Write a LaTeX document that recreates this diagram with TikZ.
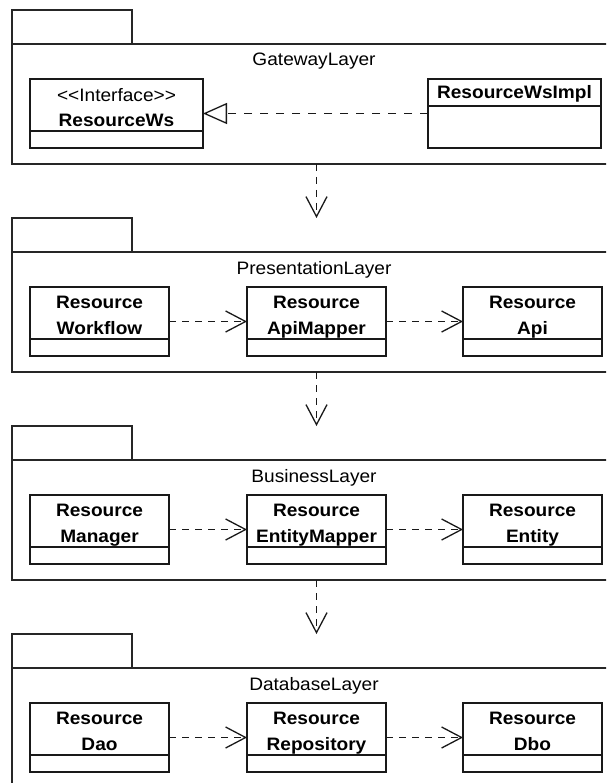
\documentclass[tikz,border=0pt]{standalone}
\usepackage{fontspec}
\setmainfont{Liberation Sans}[FakeStretch=1.06]
\usetikzlibrary{arrows.meta}

% class box: #1 name, #2 left, #3 top, #4 width, #5 height, #6 divider offset from top
\newcommand\classbox[6]{%
  \node[cls, minimum width=#4pt, minimum height=#5pt] (#1) at (#2,#3) {};
  \draw[clsline] ([yshift=-#6pt]#1.north west) -- ([yshift=-#6pt]#1.north east);
}
% package frame: #1 name, #2 top of body, #3 title
\newcommand\pkgframe[3]{%
  \node[pkg, minimum width=605pt, minimum height=120pt] (#1) at (12,#2) {};
  \node[pkg, anchor=south west, minimum width=120pt, minimum height=34pt] (#1-tab) at (12,#2) {};
  \node[lbl, anchor=base] (#1-title) at (314,#2+22) {#3};
}

\begin{document}
\begin{tikzpicture}[x=1pt, y=-1pt,
  pkg/.style={draw=black!85, line width=1.5pt, inner sep=0pt, outer sep=0pt, anchor=north west},
  cls/.style={draw=black!90, line width=1.6pt, inner sep=0pt, outer sep=0pt, anchor=north west, fill=white},
  clsline/.style={draw=black!90, line width=1.6pt},
  lbl/.style={font=\fontsize{18}{22}\selectfont, inner sep=0pt},
  cname/.style={font=\fontsize{18}{22}\selectfont\bfseries, inner sep=0pt, anchor=base},
  dep/.style={draw=black!90, line width=1.3pt, dash pattern=on 7pt off 6pt,
    -{Straight Barb[length=20pt, width=21pt, line width=1.3pt]}},
  real/.style={draw=black!90, line width=1.3pt, dash pattern=on 8pt off 8pt,
    -{Triangle[open, length=24pt, width=21pt, line width=1.3pt]}}]

\clip (0,0) rectangle (606,783);
\fill[white] (0,0) rectangle (606,783);

% ---------- GatewayLayer ----------
\pkgframe{gw}{44}{GatewayLayer}
\classbox{iface}{30}{79}{173}{69}{52}
\node[lbl, anchor=base] (iface-st) at (116.5,101.5) {<\kern0pt<Interface>\kern0pt>};
\node[cname] (iface-n) at (116.5,126.5) {ResourceWs};
\classbox{impl}{428}{79}{173}{69}{27}
\node[cname] (impl-n) at (514.5,98.5) {ResourceWsImpl};
\draw[real] (impl) -- (iface);

% ---------- PresentationLayer ----------
\pkgframe{pl}{252}{PresentationLayer}
\classbox{pwf}{30}{287}{139}{69}{52}
\classbox{pam}{247}{287}{139}{69}{52}
\classbox{papi}{463}{287}{139}{69}{52}
\node[cname] (pwf-a) at (99.5,308) {Resource};
\node[cname] (pwf-b) at (99.5,334) {Workflow};
\node[cname] (pam-a) at (316.5,308) {Resource};
\node[cname] (pam-b) at (316.5,334) {ApiMapper};
\node[cname] (papi-a) at (532.5,308) {Resource};
\node[cname] (papi-b) at (532.5,334) {Api};
\draw[dep] (pwf) -- (pam);
\draw[dep] (pam) -- (papi);

% ---------- BusinessLayer ----------
\pkgframe{bl}{460}{BusinessLayer}
\classbox{bmg}{30}{495}{139}{69}{52}
\classbox{bem}{247}{495}{139}{69}{52}
\classbox{ben}{463}{495}{139}{69}{52}
\node[cname] (bmg-a) at (99.5,516) {Resource};
\node[cname] (bmg-b) at (99.5,542) {Manager};
\node[cname] (bem-a) at (316.5,516) {Resource};
\node[cname] (bem-b) at (316.5,542) {EntityMapper};
\node[cname] (ben-a) at (532.5,516) {Resource};
\node[cname] (ben-b) at (532.5,542) {Entity};
\draw[dep] (bmg) -- (bem);
\draw[dep] (bem) -- (ben);

% ---------- DatabaseLayer ----------
\pkgframe{dl}{668}{DatabaseLayer}
\classbox{ddao}{30}{703}{139}{69}{52}
\classbox{drep}{247}{703}{139}{69}{52}
\classbox{ddbo}{463}{703}{139}{69}{52}
\node[cname] (ddao-a) at (99.5,724) {Resource};
\node[cname] (ddao-b) at (99.5,750) {Dao};
\node[cname] (drep-a) at (316.5,724) {Resource};
\node[cname] (drep-b) at (316.5,750) {Repository};
\node[cname] (ddbo-a) at (532.5,724) {Resource};
\node[cname] (ddbo-b) at (532.5,750) {Dbo};
\draw[dep] (ddao) -- (drep);
\draw[dep] (drep) -- (ddbo);

% ---------- layer dependencies ----------
\draw[dep] (gw.south -| pam) -- (pl-tab.north -| pam);
\draw[dep] (pl.south -| pam) -- (bl-tab.north -| pam);
\draw[dep] (bl.south -| pam) -- (dl-tab.north -| pam);
\end{tikzpicture}
\end{document}
